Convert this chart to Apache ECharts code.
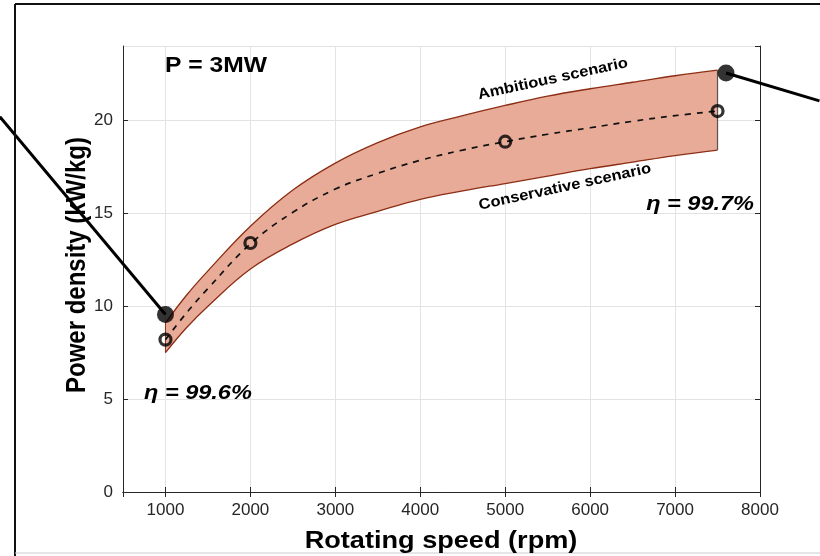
<!DOCTYPE html>
<html>
<head>
<meta charset="utf-8">
<script src="https://cdn.jsdelivr.net/npm/echarts@6/dist/echarts.min.js"></script>
<style>
  html, body { margin: 0; padding: 0; background: #fff; }
  #chart { width: 820px; height: 556px; }
</style>
</head>
<body>
<div id="chart"></div>
<script>
// rotating speed (rpm) sampled along the curves
const speeds = [1000, 1250, 1500, 2000, 2500, 3000, 3500, 4000, 4500, 5000, 5500, 6000, 6500, 7000, 7500];
// power density (kW/kg)
const ambitious = [9.1, 10.6, 11.9, 14.3, 16.25, 17.7, 18.8, 19.65, 20.25, 20.8, 21.3, 21.7, 22.05, 22.4, 22.7];
const conservative = [7.5, 8.85, 10.0, 12.0, 13.35, 14.4, 15.1, 15.75, 16.2, 16.6, 17.0, 17.4, 17.75, 18.1, 18.4];
const nominal = [8.2, 9.65, 10.95, 13.35, 15.05, 16.3, 17.15, 17.85, 18.4, 18.85, 19.25, 19.6, 19.95, 20.25, 20.5];

// open circle markers on the nominal curve
const markerSpeeds = [1000, 2000, 5000, 7500];
const markerDensity = [8.2, 13.4, 18.85, 20.5];

// efficiency call-outs: dot + leader end (leader runs off the plot)
const effLow = [[1000, 9.55], [-950, 20.2]];
const effHigh = [[7600, 22.55], [8700, 21.05]];

const pair = (xs, ys) => xs.map((x, i) => [x, ys[i]]);
// stacked band: value column first so the stack runs along y
const bandBase = conservative.map((v, i) => [v, speeds[i]]);
const bandWidth = ambitious.map((v, i) => [+(v - conservative[i]).toFixed(3), speeds[i]]);

const edgeColor = "#8c2d14";
const fillColor = "#e8ab97";
const axisColor = "#262626";
const tickFmt = v => String(v);
const last = arr => arr[arr.length - 1];

const chart = echarts.init(document.getElementById("chart"));

const option = {
  animation: false,
  grid: { left: 123, right: 60, top: 46, bottom: 64 },
  xAxis: [
    {
      type: "value",
      min: 500,
      max: 8000,
      splitNumber: 7,
      axisLine: { lineStyle: { color: axisColor, width: 1 } },
      axisTick: { inside: true, length: 5, lineStyle: { color: axisColor } },
      axisLabel: {
        showMinLabel: false,
        formatter: tickFmt,
        color: axisColor,
        fontSize: 17,
        fontFamily: "Liberation Sans",
        margin: 10
      },
      splitLine: { show: true, lineStyle: { color: "#e3e3e3", width: 1 } }
    },
    {
      type: "value",
      position: "top",
      min: 500,
      max: 8000,
      splitNumber: 7,
      axisLine: { lineStyle: { color: axisColor, width: 1 } },
      axisTick: { inside: true, length: 5, lineStyle: { color: axisColor } },
      axisLabel: { show: false },
      splitLine: { show: false }
    }
  ],
  yAxis: [
    {
      type: "value",
      min: 0,
      max: 24,
      interval: 5,
      axisLine: { show: true, lineStyle: { color: axisColor, width: 1 } },
      axisTick: { show: true, inside: true, length: 5, lineStyle: { color: axisColor } },
      axisLabel: {
        showMaxLabel: false,
        formatter: tickFmt,
        color: axisColor,
        fontSize: 17,
        fontFamily: "Liberation Sans",
        margin: 10
      },
      splitLine: { show: true, lineStyle: { color: "#e3e3e3", width: 1 } }
    },
    {
      type: "value",
      position: "right",
      min: 0,
      max: 24,
      interval: 5,
      axisLine: { show: true, lineStyle: { color: axisColor, width: 1 } },
      axisTick: { show: true, inside: true, length: 5, lineStyle: { color: axisColor } },
      axisLabel: { show: false },
      splitLine: { show: false }
    }
  ],
  series: [
    {
      name: "base",
      type: "line",
      stack: "band",
      data: bandBase,
      encode: { x: 1, y: 0 },
      smooth: 0.4,
      symbol: "none",
      lineStyle: { width: 0, opacity: 0 },
      silent: true
    },
    {
      name: "band",
      type: "line",
      stack: "band",
      data: bandWidth,
      encode: { x: 1, y: 0 },
      smooth: 0.4,
      symbol: "none",
      lineStyle: { width: 0, opacity: 0 },
      areaStyle: { color: fillColor, opacity: 1 },
      silent: true
    },
    {
      name: "Ambitious scenario",
      type: "line",
      data: pair(speeds, ambitious),
      smooth: 0.4,
      symbol: "none",
      lineStyle: { color: edgeColor, width: 1.3 }
    },
    {
      name: "Conservative scenario",
      type: "line",
      data: pair(speeds, conservative),
      smooth: 0.4,
      symbol: "none",
      lineStyle: { color: edgeColor, width: 1.3 }
    },
    {
      name: "left edge",
      type: "line",
      data: [[speeds[0], conservative[0]], [speeds[0], ambitious[0]]],
      symbol: "none",
      lineStyle: { color: edgeColor, width: 1 }
    },
    {
      name: "right edge",
      type: "line",
      data: [[last(speeds), last(conservative)], [last(speeds), last(ambitious)]],
      symbol: "none",
      lineStyle: { color: "#555", width: 1.2 }
    },
    {
      name: "nominal",
      type: "line",
      data: pair(speeds, nominal),
      smooth: 0.4,
      symbol: "none",
      lineStyle: { color: "#111", width: 1.7, type: [6, 6] }
    },
    {
      name: "eff dots",
      type: "scatter",
      data: [effLow[0], effHigh[0]],
      clip: false,
      z: 5,
      symbolSize: 17,
      itemStyle: { color: "#000" }
    },
    {
      name: "markers",
      type: "scatter",
      data: pair(markerSpeeds, markerDensity),
      z: 5,
      symbolSize: 11,
      itemStyle: { color: "rgba(0,0,0,0)", borderColor: "#000", borderWidth: 3.2 }
    }
  ]
};

chart.setOption(option);

// leader lines run outside the plot area, so place them through the grid's scale
const toPx = p => chart.convertToPixel({ gridIndex: 0 }, p);
const leader = pts => ({
  type: "polyline",
  z: 50,
  shape: { points: pts.map(toPx) },
  style: { stroke: "#000", lineWidth: 3, fill: null }
});

const textEl = (x, y, text, font, align, extra) => Object.assign({
  type: "text", x: x, y: y, z: 100,
  style: { text: text, fill: "#000", font: font, align: align, verticalAlign: "middle" }
}, extra || {});

chart.setOption({
  graphic: [
    // outer frame
    { type: "line", z: 100, shape: { x1: 15, y1: 4, x2: 820, y2: 4 }, style: { stroke: "#111", lineWidth: 2 } },
    { type: "line", z: 100, shape: { x1: 15, y1: 4, x2: 15, y2: 556 }, style: { stroke: "#111", lineWidth: 2 } },
    { type: "line", z: 100, shape: { x1: 15, y1: 553, x2: 820, y2: 553 }, style: { stroke: "#ccc", lineWidth: 1 } },
    leader(effLow),
    leader(effHigh),
    textEl(441, 541, "Rotating speed (rpm)", "bold 24px 'Liberation Sans'", "center", { scaleX: 1.13 }),
    textEl(78, 265, "Power density (kW/kg)", "bold 24px 'Liberation Sans'", "center",
      { rotation: Math.PI / 2, scaleY: 1.13 }),
    textEl(165, 66, "P = 3MW", "bold 22px 'Liberation Sans'", "left", { scaleX: 1.12 }),
    textEl(144, 393, "η = 99.6%", "italic bold 21px 'Liberation Sans'", "left", { scaleX: 1.12 }),
    textEl(754, 204, "η = 99.7%", "italic bold 21px 'Liberation Sans'", "right", { scaleX: 1.12 }),
    textEl(553, 79, "Ambitious scenario", "bold 15px 'Liberation Sans'", "center",
      { rotation: 12.3 * Math.PI / 180, scaleX: 1.1 }),
    textEl(565, 187, "Conservative scenario", "bold 15px 'Liberation Sans'", "center",
      { rotation: 12.2 * Math.PI / 180, scaleX: 1.1 })
  ]
});
</script>
</body>
</html>
